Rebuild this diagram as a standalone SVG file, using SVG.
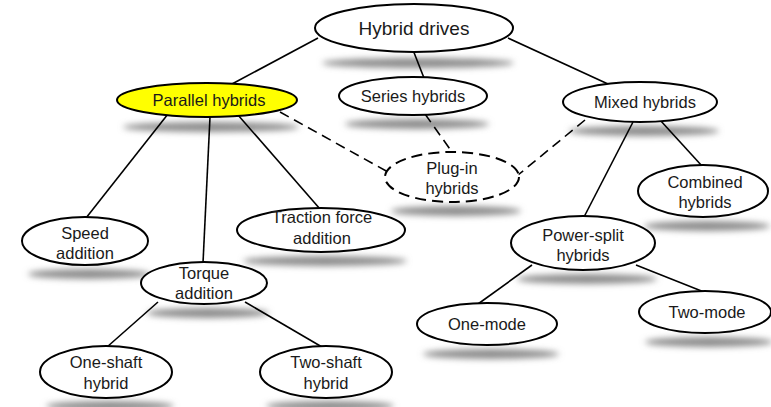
<svg xmlns="http://www.w3.org/2000/svg" width="771" height="407" viewBox="0 0 771 407">
  <defs>
    <filter id="soft" x="-20%" y="-200%" width="140%" height="500%">
      <feGaussianBlur stdDeviation="3"/>
    </filter>
  </defs>
  <style>
    .node { fill: #ffffff; stroke: #000000; stroke-width: 2; }
    .hl { fill: #ffff00; }
    .dash { stroke-dasharray: 11 6; }
    .edge { stroke: #000000; stroke-width: 1.6; fill: none; }
    .edge.d { stroke-dasharray: 10 6; }
    .sh { fill: #8c8c8c; filter: url(#soft); }
    text { font-family: "Liberation Sans", Arial, sans-serif; font-size: 16.5px; fill: #1a1a1a; text-anchor: middle; }
    .big { font-size: 19px; }
  </style>

  <rect width="771" height="407" fill="#ffffff"/>

  <!-- drop shadows beneath the ellipses -->
  <g id="shadows">
    <ellipse class="sh" cx="418" cy="63" rx="96" ry="5"/>
    <ellipse class="sh" cx="211" cy="127" rx="88" ry="5"/>
    <ellipse class="sh" cx="417" cy="124" rx="72" ry="5"/>
    <ellipse class="sh" cx="644" cy="131" rx="75" ry="5"/>
    <ellipse class="sh" cx="456" cy="211" rx="65" ry="5"/>
    <ellipse class="sh" cx="89" cy="274" rx="61" ry="5"/>
    <ellipse class="sh" cx="325" cy="261" rx="82" ry="5"/>
    <ellipse class="sh" cx="208" cy="313" rx="61" ry="5"/>
    <ellipse class="sh" cx="707" cy="226" rx="63" ry="5"/>
    <ellipse class="sh" cx="587" cy="279" rx="70" ry="5"/>
    <ellipse class="sh" cx="491" cy="354" rx="68" ry="5"/>
    <ellipse class="sh" cx="709" cy="342" rx="64" ry="5"/>
    <ellipse class="sh" cx="110" cy="406" rx="64" ry="5"/>
    <ellipse class="sh" cx="330" cy="406" rx="64" ry="5"/>
  </g>

  <g id="connectors">
    <line class="edge" x1="318" y1="38" x2="232" y2="84"/>
    <line class="edge" x1="413" y1="50" x2="424" y2="78"/>
    <line class="edge" x1="508" y1="38" x2="608" y2="84"/>
    <line class="edge" x1="168" y1="114" x2="86" y2="218"/>
    <line class="edge" x1="210" y1="117" x2="203" y2="263"/>
    <line class="edge" x1="238" y1="115" x2="320" y2="209"/>
    <line class="edge d" x1="280" y1="112" x2="388" y2="172"/>
    <line class="edge d" x1="425" y1="114" x2="452" y2="152"/>
    <line class="edge d" x1="585" y1="120" x2="518" y2="175"/>
    <line class="edge" x1="660" y1="120" x2="702" y2="166"/>
    <line class="edge" x1="633" y1="122" x2="584" y2="217"/>
    <line class="edge" x1="532" y1="265" x2="478" y2="304"/>
    <line class="edge" x1="636" y1="265" x2="704" y2="292"/>
    <line class="edge" x1="158" y1="302" x2="107" y2="347"/>
    <line class="edge" x1="245" y1="302" x2="322" y2="347"/>
  </g>

  <g id="hybrid-drives">
    <ellipse class="node" cx="414" cy="28" rx="99" ry="24"/>
    <text class="big" x="414" y="35">Hybrid drives</text>
  </g>

  <g id="parallel-hybrids">
    <ellipse class="node hl" cx="207" cy="100" rx="90" ry="17"/>
    <text x="209" y="106">Parallel hybrids</text>
  </g>

  <g id="series-hybrids">
    <ellipse class="node" cx="413" cy="96" rx="74" ry="19"/>
    <text x="413" y="102">Series hybrids</text>
  </g>

  <g id="mixed-hybrids">
    <ellipse class="node" cx="640" cy="102" rx="77" ry="20"/>
    <text x="645" y="108">Mixed hybrids</text>
  </g>

  <g id="plug-in-hybrids">
    <ellipse class="node dash" cx="452" cy="177" rx="67" ry="25"/>
    <text x="452" y="174">Plug-in</text>
    <text x="452" y="194">hybrids</text>
  </g>

  <g id="speed-addition">
    <ellipse class="node" cx="85" cy="241" rx="63" ry="24"/>
    <text x="85" y="239">Speed</text>
    <text x="85" y="259">addition</text>
  </g>

  <g id="traction-force-addition">
    <ellipse class="node" cx="321" cy="230" rx="84" ry="22"/>
    <text x="322" y="223">Traction force</text>
    <text x="322" y="244">addition</text>
  </g>

  <g id="torque-addition">
    <ellipse class="node" cx="204" cy="283" rx="63" ry="21"/>
    <text x="204" y="279">Torque</text>
    <text x="204" y="299">addition</text>
  </g>

  <g id="combined-hybrids">
    <ellipse class="node" cx="703" cy="191" rx="65" ry="26"/>
    <text x="705" y="188">Combined</text>
    <text x="705" y="208">hybrids</text>
  </g>

  <g id="power-split-hybrids">
    <ellipse class="node" cx="583" cy="243" rx="72" ry="27"/>
    <text x="583" y="241">Power-split</text>
    <text x="583" y="261">hybrids</text>
  </g>

  <g id="one-mode">
    <ellipse class="node" cx="487" cy="324" rx="70" ry="21"/>
    <text x="487" y="330">One-mode</text>
  </g>

  <g id="two-mode">
    <ellipse class="node" cx="705" cy="312" rx="66" ry="21"/>
    <text x="707" y="318">Two-mode</text>
  </g>

  <g id="one-shaft-hybrid">
    <ellipse class="node" cx="106" cy="372" rx="66" ry="26"/>
    <text x="106" y="368">One-shaft</text>
    <text x="106" y="389">hybrid</text>
  </g>

  <g id="two-shaft-hybrid">
    <ellipse class="node" cx="326" cy="372" rx="66" ry="26"/>
    <text x="326" y="368">Two-shaft</text>
    <text x="326" y="389">hybrid</text>
  </g>
</svg>
